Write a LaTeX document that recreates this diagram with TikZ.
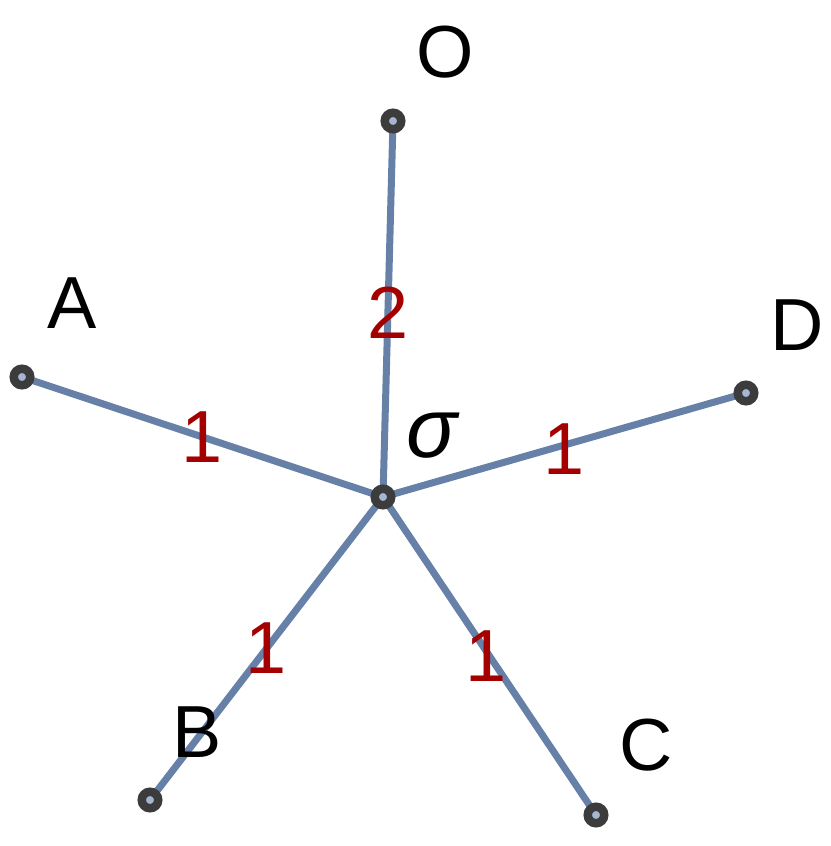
\documentclass[tikz,border=0pt]{standalone}
\usepackage{fontspec}
\setmainfont{Liberation Sans}
\usepackage{tikz}
\usetikzlibrary{calc}
\definecolor{edgeblue}{HTML}{6680A8}
\definecolor{weightred}{HTML}{A50000}
\definecolor{vertexgray}{HTML}{3C3C3C}
\definecolor{vertexfill}{HTML}{A4B6D2}
\tikzset{
	vertex/.style={circle, draw=vertexgray, line width=1.7mm, fill=vertexfill, minimum size=3.3mm, inner sep=0pt},
	branch/.style={line width=1.4mm, color=edgeblue},
	weight/.style={text=weightred, font=\fontsize{42}{50}\selectfont},
	tag/.style={font=\fontsize{42}{50}\selectfont}
}

\begin{document}
\begin{tikzpicture}
		%%%%% START %%%%%
		
		\useasboundingbox (0, 0) rectangle (16.6, 16.92);
		
		\coordinate (s) at (7.66, 6.98);
		\coordinate (o) at (7.86, 14.5);
		\coordinate (a) at (0.44, 9.38);
		\coordinate (d) at (14.92, 9.06);
		\coordinate (b) at (3.0, 0.92);
		\coordinate (c) at (11.92, 0.62);
		
		\draw[branch] (s) -- (o) node[weight, pos=0.49] {2};
		\draw[branch] (s) -- (a) node[weight, pos=0.5] {1};
		\draw[branch] (s) -- (d) node[weight, pos=0.5, yshift=-0.8mm] {1};
		\draw[branch] (s) -- (b) node[weight, pos=0.5] {1};
		\draw[branch] (s) -- (c) node[weight, pos=0.5, xshift=-0.6mm] {1};
		
		\node[vertex] (sv) at (s) {};
		\node[vertex] (ov) at (o) {};
		\node[vertex] (av) at (a) {};
		\node[vertex] (dv) at (d) {};
		\node[vertex] (bv) at (b) {};
		\node[vertex] (cv) at (c) {};
		
		\node[tag] (olab) at (8.9, 15.88) {O};
		\node[tag] (alab) at (1.44, 10.86) {A};
		\node[tag] (dlab) at (15.94, 10.42) {D};
		\node[tag] (blab) at (3.94, 2.28) {B};
		\node[tag] (clab) at (12.92, 2.02) {C};
		\node[tag, font=\fontsize{48}{56}\selectfont] (slab) at (8.66, 8.2) {\textit{σ}};
		
		%%%%% END %%%%%
	\end{tikzpicture}
\end{document}
